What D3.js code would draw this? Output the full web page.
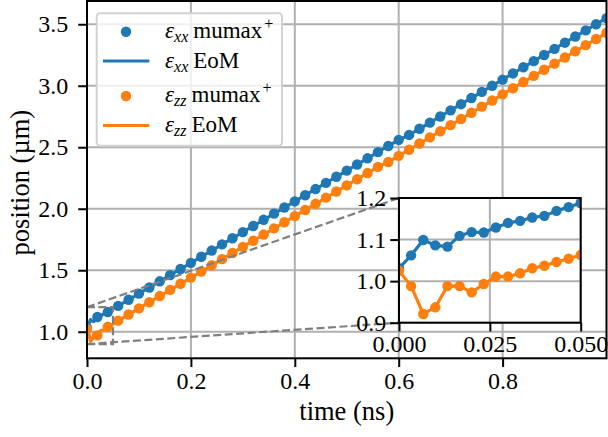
<!DOCTYPE html>
<html>
<head>
<meta charset="utf-8">
<script src="https://cdn.jsdelivr.net/npm/d3@7"></script>
<style>
  body { margin: 0; background: #fff; }
  svg { display: block; }
  text { font-family: "Liberation Serif", "Times New Roman", serif; }
</style>
</head>
<body>
<svg id="chart" width="608" height="437"></svg>
<script>
// Wall position over the full run, sampled every 0.02 ns (markers)
const timeMain = [0.00, 0.02, 0.04, 0.06, 0.08, 0.10, 0.12, 0.14, 0.16, 0.18,
  0.20, 0.22, 0.24, 0.26, 0.28, 0.30, 0.32, 0.34, 0.36, 0.38,
  0.40, 0.42, 0.44, 0.46, 0.48, 0.50, 0.52, 0.54, 0.56, 0.58,
  0.60, 0.62, 0.64, 0.66, 0.68, 0.70, 0.72, 0.74, 0.76, 0.78,
  0.80, 0.82, 0.84, 0.86, 0.88, 0.90, 0.92, 0.94, 0.96, 0.98, 1.00];
const xxMain = [1.03, 1.12, 1.16, 1.21, 1.26, 1.31, 1.36, 1.41, 1.46, 1.51,
  1.56, 1.61, 1.66, 1.71, 1.76, 1.81, 1.86, 1.91, 1.96, 2.01,
  2.06, 2.11, 2.16, 2.21, 2.26, 2.31, 2.36, 2.41, 2.46, 2.51,
  2.56, 2.60, 2.65, 2.70, 2.75, 2.80, 2.85, 2.90, 2.95, 3.00,
  3.05, 3.10, 3.15, 3.20, 3.25, 3.30, 3.35, 3.40, 3.45, 3.50, 3.55];
const zzMain = [1.02, 0.97, 1.04, 1.09, 1.14, 1.19, 1.24, 1.29, 1.34, 1.39,
  1.44, 1.49, 1.54, 1.59, 1.64, 1.69, 1.74, 1.79, 1.84, 1.89,
  1.94, 1.99, 2.04, 2.09, 2.14, 2.19, 2.24, 2.29, 2.34, 2.38,
  2.43, 2.48, 2.53, 2.58, 2.63, 2.68, 2.73, 2.78, 2.83, 2.88,
  2.93, 2.98, 3.03, 3.08, 3.13, 3.18, 3.23, 3.28, 3.33, 3.38, 3.43];

// Early transient, sampled every 1/300 ns
const timeZoom = [0.0, 0.00333, 0.00667, 0.01, 0.01333, 0.01667, 0.02, 0.02333,
  0.02667, 0.03, 0.03333, 0.03667, 0.04, 0.04333, 0.04667, 0.05];
const xxZoom = [1.031, 1.062, 1.099, 1.086, 1.083, 1.109, 1.118, 1.117,
  1.129, 1.140, 1.145, 1.153, 1.157, 1.169, 1.178, 1.188];
const zzZoom = [1.025, 0.988, 0.921, 0.937, 0.988, 0.988, 0.973, 0.993,
  1.011, 1.011, 1.019, 1.031, 1.037, 1.046, 1.054, 1.063];

const xTicks = [0.0, 0.2, 0.4, 0.6, 0.8];
const yTicks = [1.0, 1.5, 2.0, 2.5, 3.0, 3.5];
const insetXTicks = [0.0, 0.025, 0.05];
const insetYTicks = [0.9, 1.0, 1.1, 1.2];

const BLUE = "#1f77b4", ORANGE = "#ff7f0e", GRID = "#b0b0b0";
const FONT = '"Liberation Serif", "Times New Roman", serif';
const TICK_FS = 24, LABEL_FS = 26.5, LEG_FS = 23, SUB_FS = 16;
const MARK_R = 5.2, LINE_W = 3.2;

const svg = d3.select("#chart");
svg.append("rect").attr("width", 608).attr("height", 437).attr("fill", "#fff");

// ---------- main axes ----------
const P = { left: 87, right: 606.5, top: 1, bottom: 358.3 };
const x = d3.scaleLinear().domain([0, 1]).range([P.left, P.right]);
const y = d3.scaleLinear().domain([0.784, 3.689]).range([P.bottom, P.top]);

svg.append("defs").append("clipPath").attr("id", "clipMain")
  .append("rect").attr("x", P.left).attr("y", P.top)
  .attr("width", P.right - P.left).attr("height", P.bottom - P.top);

const grid = svg.append("g");
grid.selectAll("line.vx").data(xTicks).join("line")
  .attr("x1", d => x(d)).attr("x2", d => x(d)).attr("y1", P.top).attr("y2", P.bottom)
  .attr("stroke", GRID).attr("stroke-width", 2);
grid.selectAll("line.hy").data(yTicks).join("line")
  .attr("x1", P.left).attr("x2", P.right).attr("y1", d => y(d)).attr("y2", d => y(d))
  .attr("stroke", GRID).attr("stroke-width", 2);

// EoM curves: fine samples over the transient, coarse samples afterwards
function eomSeries(fineY, coarseY) {
  const pts = timeZoom.map((t, i) => [t, fineY[i]]);
  timeMain.forEach((t, i) => { if (t > 0.05) pts.push([t, coarseY[i]]); });
  return pts;
}

const data = svg.append("g").attr("clip-path", "url(#clipMain)");
const line = d3.line().x(d => x(d[0])).y(d => y(d[1]));

function drawSeries(g, times, vals, eom, color, sx, sy, ln) {
  g.append("g").selectAll("circle").data(times.map((t, i) => [t, vals[i]])).join("circle")
    .attr("cx", d => sx(d[0])).attr("cy", d => sy(d[1])).attr("r", MARK_R).attr("fill", color);
  g.append("path").datum(eom).attr("d", ln).attr("fill", "none")
    .attr("stroke", color).attr("stroke-width", LINE_W).attr("stroke-linejoin", "round");
}
drawSeries(data, timeMain, xxMain, eomSeries(xxZoom, xxMain), BLUE, x, y, line);
drawSeries(data, timeMain, zzMain, eomSeries(zzZoom, zzMain), ORANGE, x, y, line);

// ticks
function styleAxis(g) {
  g.select(".domain").remove();
  g.attr("font-family", FONT).attr("font-size", TICK_FS);
  g.selectAll(".tick line").attr("stroke", "#000").attr("stroke-width", 2);
  g.selectAll(".tick text").attr("fill", "#000");
}
svg.append("g").attr("transform", `translate(0,${P.bottom})`)
  .call(d3.axisBottom(x).tickValues(xTicks).tickFormat(d3.format(".1f")).tickSize(8.75).tickPadding(5))
  .call(styleAxis);
svg.append("g").attr("transform", `translate(${P.left},0)`)
  .call(d3.axisLeft(y).tickValues(yTicks).tickFormat(d3.format(".1f")).tickSize(8.75).tickPadding(10))
  .call(styleAxis);

// zoom-region marker and connectors
const mark = svg.append("g").attr("fill", "none").attr("stroke", "#808080")
  .attr("stroke-width", 2.2).attr("stroke-dasharray", "8,3.5");

// spines
svg.append("rect").attr("x", P.left).attr("y", P.top)
  .attr("width", P.right - P.left).attr("height", P.bottom - P.top)
  .attr("fill", "none").attr("stroke", "#000").attr("stroke-width", 2);

// axis labels
svg.append("text").attr("x", (P.left + P.right) / 2).attr("y", 420)
  .attr("text-anchor", "middle").attr("font-size", LABEL_FS).text("time (ns)");
svg.append("text").attr("transform", `translate(29,${(P.top + P.bottom) / 2 + 3}) rotate(-90)`)
  .attr("text-anchor", "middle").attr("font-size", LABEL_FS).text("position (µm)");

// ---------- legend ----------
const leg = svg.append("g");
leg.append("rect").attr("x", 96.7).attr("y", 13.3).attr("width", 185.3).attr("height", 132.4)
  .attr("rx", 3.5).attr("fill", "#fff").attr("fill-opacity", 0.8)
  .attr("stroke", "#d2d2d2").attr("stroke-width", 2);
const legItems = [
  { kind: "marker", color: BLUE, sub: "xx", name: "mumax", sup: "+", cy: 31.7, base: 37.5 },
  { kind: "line", color: BLUE, sub: "xx", name: "EoM", sup: "", cy: 61, base: 67.5 },
  { kind: "marker", color: ORANGE, sub: "zz", name: "mumax", sup: "+", cy: 96, base: 101.5 },
  { kind: "line", color: ORANGE, sub: "zz", name: "EoM", sup: "", cy: 125.5, base: 131.5 }
];
legItems.forEach(it => {
  if (it.kind === "marker") {
    leg.append("circle").attr("cx", 126).attr("cy", it.cy).attr("r", MARK_R).attr("fill", it.color);
  } else {
    leg.append("line").attr("x1", 103).attr("x2", 149.3).attr("y1", it.cy).attr("y2", it.cy)
      .attr("stroke", it.color).attr("stroke-width", LINE_W);
  }
  const t = leg.append("text").attr("x", 165).attr("y", it.base).attr("font-size", LEG_FS);
  t.append("tspan").attr("font-style", "italic").text("ε");
  t.append("tspan").attr("font-style", "italic").attr("font-size", SUB_FS).attr("dy", 4.5).text(it.sub);
  t.append("tspan").attr("dy", -4.5).attr("dx", 5).text(it.name);
  if (it.sup) t.append("tspan").attr("font-size", SUB_FS).attr("dy", -9).attr("dx", 2).text(it.sup);
});

// ---------- inset ----------
const I = { left: 399, right: 580.7, top: 198, bottom: 322.7 };
const ix = d3.scaleLinear().domain([0, 0.05]).range([I.left, I.right]);
const iy = d3.scaleLinear().domain([0.9, 1.2]).range([I.bottom, I.top]);

mark.append("rect").attr("x", x(0)).attr("y", y(1.2))
  .attr("width", x(0.05) - x(0)).attr("height", y(0.9) - y(1.2));
mark.append("line").attr("x1", x(0)).attr("y1", y(1.2)).attr("x2", ix(0)).attr("y2", iy(1.2));
mark.append("line").attr("x1", x(0)).attr("y1", y(0.9)).attr("x2", ix(0)).attr("y2", iy(0.9));

const inset = svg.append("g");
inset.append("rect").attr("x", I.left).attr("y", I.top)
  .attr("width", I.right - I.left).attr("height", I.bottom - I.top).attr("fill", "#fff");
svg.select("defs").append("clipPath").attr("id", "clipInset")
  .append("rect").attr("x", I.left).attr("y", I.top)
  .attr("width", I.right - I.left).attr("height", I.bottom - I.top);
inset.append("g").selectAll("line").data(insetXTicks).join("line")
  .attr("x1", d => ix(d)).attr("x2", d => ix(d)).attr("y1", I.top).attr("y2", I.bottom)
  .attr("stroke", GRID).attr("stroke-width", 2);
inset.append("g").selectAll("line").data(insetYTicks).join("line")
  .attr("x1", I.left).attr("x2", I.right).attr("y1", d => iy(d)).attr("y2", d => iy(d))
  .attr("stroke", GRID).attr("stroke-width", 2);

const idata = inset.append("g").attr("clip-path", "url(#clipInset)");
const iline = d3.line().x(d => ix(d[0])).y(d => iy(d[1]));
drawSeries(idata, timeZoom, xxZoom, timeZoom.map((t, i) => [t, xxZoom[i]]), BLUE, ix, iy, iline);
drawSeries(idata, timeZoom, zzZoom, timeZoom.map((t, i) => [t, zzZoom[i]]), ORANGE, ix, iy, iline);

inset.append("g").attr("transform", `translate(0,${I.bottom})`)
  .call(d3.axisBottom(ix).tickValues(insetXTicks).tickFormat(d3.format(".3f")).tickSize(8.75).tickPadding(4))
  .call(styleAxis);
inset.append("g").attr("transform", `translate(${I.left},0)`)
  .call(d3.axisLeft(iy).tickValues(insetYTicks).tickFormat(d3.format(".1f")).tickSize(8.75).tickPadding(4))
  .call(styleAxis);
inset.append("rect").attr("x", I.left).attr("y", I.top)
  .attr("width", I.right - I.left).attr("height", I.bottom - I.top)
  .attr("fill", "none").attr("stroke", "#000").attr("stroke-width", 2);
</script>
</body>
</html>
